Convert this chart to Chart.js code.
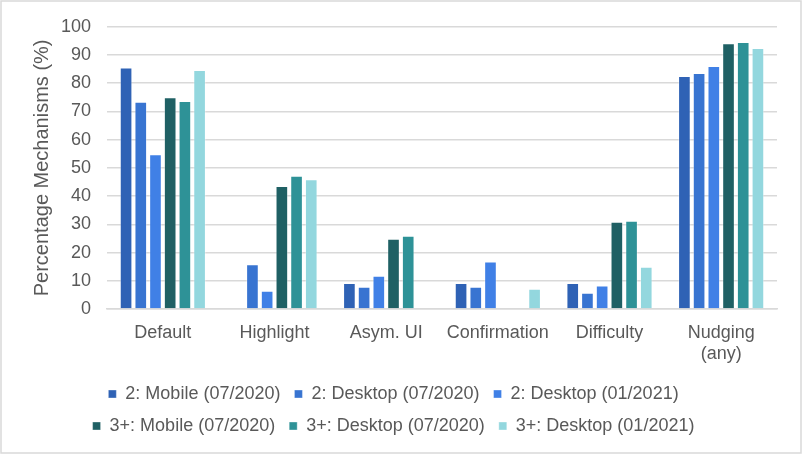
<!DOCTYPE html>
<html><head><meta charset="utf-8">
<script src="https://cdn.jsdelivr.net/npm/chart.js@4/dist/chart.umd.min.js"></script>
<style>html,body{margin:0;padding:0;background:#fff;}#wrap{width:802px;height:454px;position:relative;}</style>
</head><body><div id="wrap"><canvas id="c" width="802" height="454"></canvas></div>
<script>
const categories = ["Default", "Highlight", "Asym. UI", "Confirmation", "Difficulty", ["Nudging", "(any)"]];
const seriesNames = ["2: Mobile (07/2020)", "2: Desktop (07/2020)", "2: Desktop (01/2021)", "3+: Mobile (07/2020)", "3+: Desktop (07/2020)", "3+: Desktop (01/2021)"];
const mobile2_0720 = [85.6, 0, 9.2, 9.2, 9.2, 82.6];
const desktop2_0720 = [73.4, 15.9, 7.9, 7.9, 5.8, 83.6];
const desktop2_0121 = [54.8, 6.5, 11.8, 16.8, 8.3, 86.1];
const mobile3_0720 = [75.0, 43.6, 24.9, 0, 30.9, 94.2];
const desktop3_0720 = [73.7, 47.2, 26.0, 0, 31.3, 94.6];
const desktop3_0121 = [84.7, 46.0, 0, 7.2, 15.0, 92.5];
const yTicks = [0, 10, 20, 30, 40, 50, 60, 70, 80, 90, 100];
const colors = ["#2F62B5", "#3874D1", "#4080E6", "#1F6064", "#2E9297", "#93D7DE"];
const allSeries = [mobile2_0720, desktop2_0720, desktop2_0121, mobile3_0720, desktop3_0720, desktop3_0121];

const FONT = "'Liberation Sans', Arial, sans-serif";
const borderPlugin = {
  id: 'outerBorder',
  afterDraw(chart) {
    const ctx = chart.ctx;
    ctx.save();
    ctx.strokeStyle = '#D9D9D9';
    ctx.lineWidth = 1.5;
    ctx.strokeRect(1, 1, chart.width - 2, chart.height - 2);
    ctx.restore();
  }
};

new Chart(document.getElementById('c'), {
  type: 'bar',
  data: {
    labels: categories,
    datasets: allSeries.map((d, i) => ({
      label: seriesNames[i],
      data: d,
      backgroundColor: colors[i],
      borderColor: 'rgba(255,255,255,0.35)',
      borderWidth: (c) => (c.raw ? 1 : 0),
      borderSkipped: 'start',
      categoryPercentage: 0.79,
      barPercentage: 0.86
    }))
  },
  options: {
    responsive: false,
    animation: false,
    devicePixelRatio: 1,
    layout: { padding: { left: 10, right: 25, top: 25, bottom: 9 } },
    plugins: {
      tooltip: { enabled: false },
      legend: {
        position: 'bottom',
        align: 'center',
        labels: {
          boxWidth: 8, boxHeight: 8, padding: 14,
          color: '#595959',
          font: { family: FONT, size: 18 }
        }
      }
    },
    scales: {
      x: {
        grid: { display: false, drawTicks: false },
        border: { display: true, color: '#D9D9D9', width: 1.5 },
        ticks: { color: '#595959', font: { family: FONT, size: 18, lineHeight: 1.15 }, padding: 14, maxRotation: 0, autoSkip: false },
        afterFit(s) { s.height = 62; }
      },
      y: {
        min: 0, max: 100,
        afterBuildTicks(s) { s.ticks = yTicks.map(v => ({ value: v })); },
        grid: { color: '#D9D9D9', lineWidth: 1.5, drawTicks: false },
        border: { display: false },
        ticks: { color: '#595959', font: { family: FONT, size: 18 }, padding: 16 },
        title: { display: true, text: 'Percentage Mechanisms (%)', color: '#595959', font: { family: FONT, size: 20 }, padding: { top: 20, bottom: 0 } },
        afterFit(s) { s.width = 97; }
      }
    }
  },
  plugins: [borderPlugin]
});
</script>
</body></html>
